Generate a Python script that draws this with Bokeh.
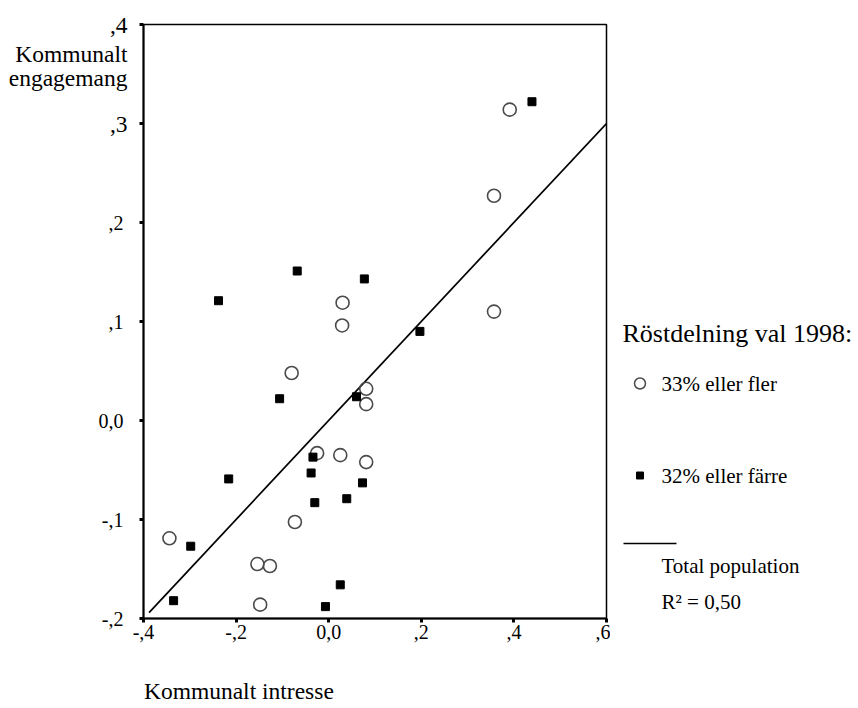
from bokeh.plotting import figure
from bokeh.layouts import row
from bokeh.models import Range1d, FixedTicker, LinearAxis
from bokeh.core.properties import value
from bokeh.embed import file_html
from bokeh.resources import INLINE

# Municipalities with a 1998 vote share of 33% or more (open circles)
high_x = [0.391, 0.357, 0.357, 0.030, 0.029, -0.080, 0.081, 0.081,
          -0.025, 0.025, 0.081, -0.073, -0.344, -0.154, -0.127, -0.148]
high_y = [0.314, 0.227, 0.110, 0.119, 0.096, 0.048, 0.032, 0.0165,
          -0.033, -0.035, -0.042, -0.1025, -0.119, -0.145, -0.147, -0.186]

# Municipalities with 32% or less (filled squares)
low_x = [0.439, -0.068, 0.077, -0.238, 0.197, -0.106, 0.060, -0.034, -0.038,
         -0.216, 0.073, 0.039, -0.030, -0.298, 0.025, -0.335, -0.007]
low_y = [0.322, 0.151, 0.143, 0.121, 0.090, 0.022, 0.024, -0.037, -0.053,
         -0.059, -0.063, -0.079, -0.083, -0.127, -0.166, -0.182, -0.188]

# Linear fit for the total population
fit_intercept = 0.0
fit_slope = 0.50
fit_x = [-0.388, 0.6]
fit_r2 = "0,50"

x_ticks = [-0.4, -0.2, 0.0, 0.2, 0.4, 0.6]
x_tick_labels = ["-,4", "-,2", "0,0", ",2", ",4", ",6"]
y_ticks = [-0.2, -0.1, 0.0, 0.1, 0.2, 0.3, 0.4]
y_tick_labels = ["-,2", "-,1", "0,0", ",1", ",2", ",3", ",4"]
y_large_ticks = [0.3, 0.4]   # these two labels are set larger

x_title = "Kommunalt intresse"
x_title_pos = -0.194            # horizontal slot of the x title (its centre)
y_title = ["Kommunalt", "engagemang"]
y_title_pos = [0.3697, 0.3455]  # vertical slots of the two title lines
legend_title = "Röstdelning val 1998:"
legend_labels = ["33% eller fler", "32% eller färre", "Total population"]

FONT = "Liberation Serif"
CIRCLE_COLOR = "#4a4a4a"

p = figure(width=610, height=708, output_backend="svg", toolbar_location=None,
           x_range=Range1d(-0.4, 0.6), y_range=Range1d(-0.2, 0.4),
           min_border_left=143, min_border_right=4, min_border_top=24,
           min_border_bottom=90)
p.background_fill_color = "white"
p.border_fill_color = "white"
p.grid.visible = False
p.outline_line_color = "black"
p.outline_line_width = 1.5

for ax in (p.xaxis[0], p.yaxis[0]):
    ax.axis_line_color = "black"
    ax.axis_line_width = 2
    ax.major_tick_in = 0
    ax.major_tick_out = 4
    ax.major_tick_line_width = 3
    ax.major_tick_line_color = "black"
    ax.minor_tick_line_color = None
    ax.major_label_text_font = FONT
    ax.major_label_text_font_size = "20px"
    ax.major_label_text_color = "black"

p.xaxis.ticker = FixedTicker(ticks=x_ticks)
p.xaxis.major_label_overrides = dict(zip(x_ticks, x_tick_labels))
p.xaxis.major_label_standoff = 2

p.yaxis.ticker = FixedTicker(ticks=y_ticks)
p.yaxis.major_label_overrides = {
    t: ("" if t in y_large_ticks else lab) for t, lab in zip(y_ticks, y_tick_labels)
}
p.yaxis.major_label_standoff = 16


def label_axis(ticks, labels, standoff, size):
    """An axis without line or tick marks that only carries text labels."""
    a = LinearAxis(ticker=FixedTicker(ticks=ticks),
                   major_label_overrides=dict(zip(ticks, labels)))
    a.axis_line_color = None
    a.major_tick_line_color = None
    a.minor_tick_line_color = None
    a.major_tick_in = 0
    a.major_tick_out = 0
    a.major_label_standoff = standoff
    a.major_label_text_font = FONT
    a.major_label_text_font_size = size
    a.major_label_text_color = "black"
    return a


# outer label column at the top of the y axis: the two larger tick labels
# and the horizontal axis title
top_ticks = [t for t in y_ticks if t in y_large_ticks] + y_title_pos
top_labels = [lab for t, lab in zip(y_ticks, y_tick_labels) if t in y_large_ticks] + y_title
p.add_layout(label_axis(top_ticks, top_labels, -32, "23.5px"), "left")

# x axis title, one row below the tick labels
p.add_layout(label_axis([x_title_pos], [x_title], 36, "23.5px"), "below")

# regression line
fit_y = [fit_intercept + fit_slope * xv for xv in fit_x]
p.line(fit_x, fit_y, line_color="black", line_width=1.7)

# data points
p.scatter(high_x, high_y, marker="circle", size=13, fill_color=None,
          line_color=CIRCLE_COLOR, line_width=1.6)
p.scatter(low_x, low_y, marker="square", size=8, fill_color="black",
          line_color="black", line_width=1)

# legend panel; its frame spans the same vertical band as the chart frame,
# and its ranges are laid out in page pixels
lg = figure(width=248, height=708, output_backend="svg", toolbar_location=None,
            x_range=Range1d(610, 858), y_range=Range1d(618, 24),
            min_border_left=0, min_border_right=0, min_border_top=24,
            min_border_bottom=90)
lg.axis.visible = False
lg.grid.visible = False
lg.outline_line_color = None
lg.background_fill_color = "white"
lg.border_fill_color = "white"

lg.text(x=[622], y=[333], text=[legend_title], text_font=value(FONT),
        text_font_size="26px", text_align="left", text_baseline="alphabetic",
        text_color="black")
lg.scatter([639.5], [383], marker="circle", size=11, fill_color=None,
           line_color=CIRCLE_COLOR, line_width=1.5)
lg.scatter([639.5], [475], marker="square", size=7, fill_color="black",
           line_color="black")
lg.line([623, 676], [543, 543], line_color="black", line_width=1.5)
lg.text(x=[661, 661, 661, 661], y=[383, 475, 565, 601],
        text=legend_labels + ["R² = " + fit_r2],
        text_font=value(FONT), text_font_size="21px", text_align="left",
        text_baseline="middle", text_color="black")

layout = row(p, lg, spacing=0)
open("out.html", "w").write(file_html(layout, INLINE))
